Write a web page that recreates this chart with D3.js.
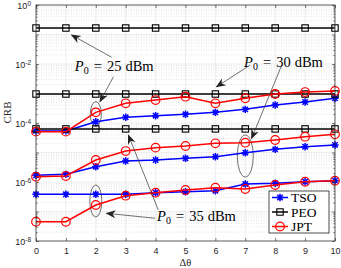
<!DOCTYPE html>
<html>
<head>
<meta charset="utf-8">
<script src="https://cdn.jsdelivr.net/npm/d3@7"></script>
<style>
  body { margin: 0; background: #fff; }
  svg { display: block; }
</style>
</head>
<body>
<div id="chart"></div>
<script>
// 1: DATA
const dTheta = [0, 1, 2, 3, 4, 5, 6, 7, 8, 9, 10];

// P0 = 25 dBm
const tso25 = [5.4e-5, 5.4e-5, 1.1e-4, 1.56e-4, 1.77e-4, 1.97e-4, 2.3e-4, 2.9e-4, 4.07e-4, 5.15e-4, 6.9e-4];
const peo25 = [0.166, 0.166, 0.166, 0.166, 0.166, 0.166, 0.166, 0.166, 0.166, 0.166, 0.166];
const jpt25 = [5.1e-5, 5.1e-5, 2.3e-4, 4.66e-4, 6.0e-4, 7.8e-4, 4.66e-4, 6.9e-4, 9.6e-4, 1.12e-3, 1.22e-3];

// P0 = 30 dBm
const tso30 = [1.69e-6, 1.82e-6, 3.3e-6, 5.15e-6, 5.57e-6, 6.36e-6, 7.2e-6, 9.85e-6, 1.28e-5, 1.57e-5, 1.8e-5];
const peo30 = [9.6e-4, 9.6e-4, 9.6e-4, 9.6e-4, 9.6e-4, 9.6e-4, 9.6e-4, 9.6e-4, 9.6e-4, 9.6e-4, 9.6e-4];
const jpt30 = [1.51e-6, 1.6e-6, 5.57e-6, 1.12e-5, 1.46e-5, 1.66e-5, 2.05e-5, 2.15e-5, 2.65e-5, 3.43e-5, 4.14e-5];

// P0 = 35 dBm
const tso35 = [3.83e-7, 3.83e-7, 3.83e-7, 3.83e-7, 4.34e-7, 4.69e-7, 5.07e-7, 8.55e-7, 9.03e-7, 1.02e-6, 1.11e-6];
const peo35 = [6.3e-5, 6.3e-5, 6.3e-5, 6.3e-5, 6.3e-5, 6.3e-5, 6.3e-5, 6.3e-5, 6.3e-5, 6.3e-5, 6.3e-5];
const jpt35 = [4.5e-8, 4.5e-8, 1.66e-7, 3.43e-7, 4.34e-7, 5.36e-7, 6.4e-7, 5.8e-7, 7.9e-7, 1.02e-6, 1.11e-6];

const xTicks = [0, 1, 2, 3, 4, 5, 6, 7, 8, 9, 10];
const yTickExps = [0, -2, -4, -6, -8];
const legendNames = ["TSO", "PEO", "JPT"];

// 2: LAYOUT
const W = 341, H = 268;
const margin = { top: 5, right: 6, bottom: 27, left: 36 };
const width = W - margin.left - margin.right;
const height = H - margin.top - margin.bottom;
const axisColor = "#262626";

const svg = d3.select("#chart").append("svg")
  .attr("width", W)
  .attr("height", H);

const defs = svg.append("defs");
defs.append("marker")
  .attr("id", "arrowhead")
  .attr("viewBox", "0 0 10 10")
  .attr("refX", 9)
  .attr("refY", 5)
  .attr("markerWidth", 10)
  .attr("markerHeight", 10)
  .attr("markerUnits", "userSpaceOnUse")
  .attr("orient", "auto")
  .append("path")
  .attr("d", "M0,1 L10,5 L0,9 L3,5 Z")
  .attr("fill", "#222");

const g = svg.append("g")
  .attr("transform", `translate(${margin.left},${margin.top})`);

// 3: SCALES
const x = d3.scaleLinear().domain([0, 10]).range([0, width]);
const y = d3.scaleLog().domain([1e-8, 1]).range([height, 0]);

// 4: GRID
const minorVals = [];
for (let e = -8; e < 0; e++) {
  for (let m = 2; m <= 9; m++) minorVals.push(m * Math.pow(10, e));
}
const majorVals = d3.range(-8, 1).map(e => Math.pow(10, e));

g.append("g").selectAll("line")
  .data(minorVals)
  .join("line")
  .attr("x1", 0).attr("x2", width)
  .attr("y1", d => y(d)).attr("y2", d => y(d))
  .attr("stroke", "#d4d4d4")
  .attr("stroke-width", 0.6)
  .attr("stroke-dasharray", "1,1.5");

g.append("g").selectAll("line")
  .data(majorVals)
  .join("line")
  .attr("x1", 0).attr("x2", width)
  .attr("y1", d => y(d)).attr("y2", d => y(d))
  .attr("stroke", "#e3e3e3")
  .attr("stroke-width", 0.6);

g.append("g").selectAll("line")
  .data(xTicks)
  .join("line")
  .attr("x1", d => x(d)).attr("x2", d => x(d))
  .attr("y1", 0).attr("y2", height)
  .attr("stroke", "#e3e3e3")
  .attr("stroke-width", 0.6);

// 5: ANNOTATION ELLIPSES (under the data)
const ellipses = [
  { x: 2, y: 2.0e-4, rx: 5.5, ry: 12.5 },
  { x: 7, y: 7.6e-6, rx: 8, ry: 21 },
  { x: 2, y: 2.27e-7, rx: 6, ry: 16 }
];
g.append("g").selectAll("ellipse")
  .data(ellipses)
  .join("ellipse")
  .attr("cx", d => x(d.x))
  .attr("cy", d => y(d.y))
  .attr("rx", d => d.rx)
  .attr("ry", d => d.ry)
  .attr("fill", "none")
  .attr("stroke", "#333")
  .attr("stroke-width", 0.7);

// 6: SERIES
const series = [
  { vals: tso25, kind: "TSO" }, { vals: tso30, kind: "TSO" }, { vals: tso35, kind: "TSO" },
  { vals: peo25, kind: "PEO" }, { vals: peo30, kind: "PEO" }, { vals: peo35, kind: "PEO" },
  { vals: jpt25, kind: "JPT" }, { vals: jpt30, kind: "JPT" }, { vals: jpt35, kind: "JPT" }
];
const color = d3.scaleOrdinal().domain(legendNames).range(["#0000ff", "#000000", "#ff0000"]);

const line = d3.line()
  .x((d, i) => x(dTheta[i]))
  .y(d => y(d));

function drawMarker(sel, kind) {
  if (kind === "TSO") {
    const r = 3.7, q = r * 0.72;
    sel.append("path")
      .attr("d", `M${-r},0L${r},0M0,${-r}L0,${r}M${-q},${-q}L${q},${q}M${-q},${q}L${q},${-q}`)
      .attr("stroke", color(kind))
      .attr("stroke-width", 1.5)
      .attr("fill", "none");
  } else if (kind === "PEO") {
    sel.append("rect")
      .attr("x", -3.2).attr("y", -3.2)
      .attr("width", 6.4).attr("height", 6.4)
      .attr("fill", "none")
      .attr("stroke", color(kind))
      .attr("stroke-width", 1.1);
  } else {
    sel.append("circle")
      .attr("r", 4.3)
      .attr("fill", "none")
      .attr("stroke", color(kind))
      .attr("stroke-width", 1.2);
  }
}

series.forEach(s => {
  g.append("path")
    .datum(s.vals)
    .attr("fill", "none")
    .attr("stroke", color(s.kind))
    .attr("stroke-width", 1.5)
    .attr("d", line);

  g.append("g").selectAll("g")
    .data(s.vals)
    .join("g")
    .attr("transform", (d, i) => `translate(${x(dTheta[i])},${y(d)})`)
    .each(function() { drawMarker(d3.select(this), s.kind); });
});

// arrows
const arrows = [
  { from: [2.53, 0.0169], to: [1.19, 0.096] },
  { from: [2.59, 3.7e-3], to: [2.14, 5.3e-4] },
  { from: [7.16, 9.2e-3], to: [6.04, 1.7e-3] },
  { from: [8.22, 9.2e-3], to: [7.21, 3.0e-5] },
  { from: [4.09, 1.12e-7], to: [3.09, 3.9e-5] },
  { from: [3.98, 5.9e-8], to: [2.36, 8.7e-8] }
];
g.append("g").selectAll("line")
  .data(arrows)
  .join("line")
  .attr("x1", d => x(d.from[0])).attr("y1", d => y(d.from[1]))
  .attr("x2", d => x(d.to[0])).attr("y2", d => y(d.to[1]))
  .attr("stroke", "#333")
  .attr("stroke-width", 0.7)
  .attr("marker-end", "url(#arrowhead)");

// labels
const labels = [
  { x: 1.30, y: 5.8e-3, p: "25" },
  { x: 6.96, y: 7.9e-3, p: "30" },
  { x: 4.05, y: 4.8e-8, p: "35" }
];
labels.forEach(l => {
  const t = g.append("text")
    .attr("x", x(l.x))
    .attr("y", y(l.y))
    .attr("font-family", "'Liberation Serif', 'Times New Roman', serif")
    .attr("font-size", 14.5)
    .attr("fill", "#000");
  t.append("tspan").attr("font-style", "italic").text("P");
  t.append("tspan").attr("font-size", 10).attr("dy", 3).text("0");
  t.append("tspan").attr("dy", -3).attr("dx", 5).text("=");
  t.append("tspan").attr("dx", 5).text(l.p);
  t.append("tspan").attr("dx", 4).text("dBm");
});

// 7: AXES
const xAxisB = g.append("g")
  .attr("transform", `translate(0,${height})`)
  .call(d3.axisBottom(x).tickValues(xTicks).tickSize(-3).tickPadding(7).tickFormat(d3.format("d")));
const xAxisT = g.append("g")
  .call(d3.axisTop(x).tickValues(xTicks).tickSize(-3).tickFormat(""));

const yAxisL = g.append("g")
  .call(d3.axisLeft(y).tickValues(majorVals).tickSize(-3).tickFormat(""));
const yAxisR = g.append("g")
  .attr("transform", `translate(${width},0)`)
  .call(d3.axisRight(y).tickValues(majorVals).tickSize(-3).tickFormat(""));
const yMinorL = g.append("g")
  .call(d3.axisLeft(y).tickValues(minorVals).tickSize(-1.6).tickFormat(""));
const yMinorR = g.append("g")
  .attr("transform", `translate(${width},0)`)
  .call(d3.axisRight(y).tickValues(minorVals).tickSize(-1.6).tickFormat(""));

[xAxisB, xAxisT, yAxisL, yAxisR, yMinorL, yMinorR].forEach(a => {
  a.select(".domain").remove();
  a.selectAll("line").attr("stroke", axisColor).attr("stroke-width", 0.6);
  a.selectAll("text")
    .attr("fill", axisColor)
    .attr("font-family", "'Liberation Sans', Arial, sans-serif")
    .attr("font-size", 9);
});

// y tick labels 10^n
const yLab = g.append("g").selectAll("text")
  .data(yTickExps)
  .join("text")
  .attr("x", -5)
  .attr("y", d => y(Math.pow(10, d)) + 4)
  .attr("text-anchor", "end")
  .attr("fill", axisColor)
  .attr("font-family", "'Liberation Sans', Arial, sans-serif")
  .attr("font-size", 9);
yLab.append("tspan").text("10");
yLab.append("tspan").attr("dy", -3.5).attr("font-size", 6.5).text(d => d);

// box
g.append("rect")
  .attr("width", width).attr("height", height)
  .attr("fill", "none")
  .attr("stroke", axisColor)
  .attr("stroke-width", 0.7);

// axis titles
svg.append("text")
  .attr("transform", "translate(11,112.5) rotate(-90)")
  .attr("text-anchor", "middle")
  .attr("font-family", "'Liberation Serif', 'Times New Roman', serif")
  .attr("font-size", 11)
  .attr("fill", axisColor)
  .text("CRB");

svg.append("text")
  .attr("x", margin.left + width / 2)
  .attr("y", 266)
  .attr("text-anchor", "middle")
  .attr("font-family", "'Liberation Serif', 'Times New Roman', serif")
  .attr("font-size", 10.5)
  .attr("fill", axisColor)
  .text("Δθ");

// 8: LEGEND
const leg = svg.append("g").attr("transform", "translate(269,191)");
leg.append("rect")
  .attr("width", 60).attr("height", 42)
  .attr("fill", "#fff")
  .attr("stroke", "#000")
  .attr("stroke-width", 0.7);
legendNames.forEach((name, i) => {
  const row = leg.append("g").attr("transform", `translate(0,${6.5 + i * 14.5})`);
  row.append("line")
    .attr("x1", 3).attr("x2", 19)
    .attr("stroke", color(name))
    .attr("stroke-width", 1.5);
  drawMarker(row.append("g").attr("transform", "translate(11,0)"), name);
  row.append("text")
    .attr("x", 22).attr("y", 4.5)
    .attr("font-family", "'Liberation Serif', 'Times New Roman', serif")
    .attr("font-size", 13.5)
    .attr("fill", "#000")
    .text(name);
});
</script>
</body>
</html>
